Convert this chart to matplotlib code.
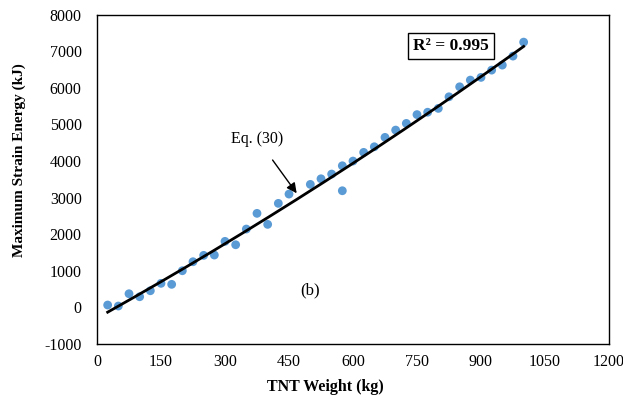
import numpy as np
import matplotlib
matplotlib.use("Agg")
import matplotlib.pyplot as plt

# TNT weight (kg) and maximum strain energy (kJ)
tnt = [25, 50, 75, 100, 125, 150, 175, 200, 225, 250, 275, 300, 325, 350, 375, 400,
       425, 450, 500, 525, 550, 575, 575, 600, 625, 650, 675, 700, 725, 750, 775,
       800, 825, 850, 875, 900, 925, 950, 975, 1000]
energy = [66, 38, 374, 292, 456, 658, 631, 1003, 1249, 1423, 1432, 1806, 1713, 2142,
          2571, 2270, 2844, 3098, 3363, 3516, 3645, 3872, 3189, 4000, 4238, 4391,
          4648, 4847, 5030, 5270, 5335, 5440, 5757, 6030, 6213, 6287, 6486, 6623, 6869, 7251]

# Eq. (30) curve, sampled from the figure
eq_x = [25, 359, 406, 711, 781, 1000]
eq_y = [-145, 2177, 2525, 4822, 5257, 7169]

plt.rcParams["font.family"] = ["Liberation Serif", "DejaVu Serif"]
plt.rcParams["axes.unicode_minus"] = False

fig = plt.figure(figsize=(6.23, 4.01), dpi=100)
ax = fig.add_axes([0.1557, 0.1421, 0.8218, 0.8212])

ax.scatter(tnt, energy, s=40, color="#5B9BD5", edgecolors="none", zorder=2)

coef = np.polyfit(eq_x, eq_y, 2)
xs = np.linspace(eq_x[0], eq_x[-1], 200)
ax.plot(xs, np.polyval(coef, xs), color="black", lw=2, zorder=3)

ax.set_xlim(0, 1200)
ax.set_ylim(-1000, 8000)
ax.set_xticks(np.arange(0, 1201, 150))
ax.set_yticks(np.arange(-1000, 8001, 1000))
ax.tick_params(length=0, labelsize=11.5)
ax.tick_params(axis="x", pad=7)
ax.tick_params(axis="y", pad=11)
for s in ax.spines.values():
    s.set_linewidth(1.0)
    s.set_color("black")

ax.set_xlabel("TNT Weight (kg)", fontsize=11.5, fontweight="bold")
ax.xaxis.set_label_coords(0.447, -0.105)
ax.set_ylabel("Maximum Strain Energy (kJ)", fontsize=11, fontweight="bold")
ax.yaxis.set_label_coords(-0.139, 0.559)

ax.annotate("Eq. (30)", xy=(468, 3120), xytext=(376, 4600), fontsize=11.5,
            ha="center", va="center",
            arrowprops=dict(arrowstyle="-|>", color="black", lw=1, mutation_scale=15,
                            shrinkA=9, shrinkB=0), zorder=4)
ax.text(500, 460, "(b)", fontsize=12, ha="center", va="center")
ax.text(830, 7150, "R² = 0.995", fontsize=12.5, fontweight="bold", ha="center", va="center",
        bbox=dict(boxstyle="square,pad=0.3", fc="white", ec="black", lw=1))

fig.savefig("out.png", dpi=100)
